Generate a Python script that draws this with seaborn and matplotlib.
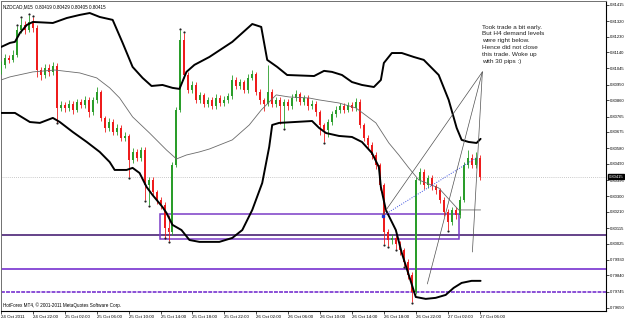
import numpy as np
import matplotlib
matplotlib.use("Agg")
import matplotlib.pyplot as plt
import seaborn as sns

# ---------------- data ----------------
bars = list(range(121))  # M15 chart, drawn here as 30-min candles, 24 Oct 18:00 .. 27 Oct 06:00

opens = [0.81036, 0.81065, 0.81106, 0.81094, 0.81124, 0.81269, 0.81298, 0.81269, 0.81316, 0.81281,
         0.81036, 0.81007, 0.81048, 0.81025, 0.81060, 0.80815, 0.80832, 0.80815, 0.80838, 0.80803,
         0.80850, 0.80832, 0.80862, 0.80792, 0.80862, 0.80908, 0.80757, 0.80698, 0.80733, 0.80675,
         0.80698, 0.80640, 0.80652, 0.80512, 0.80559, 0.80524, 0.80570, 0.80366, 0.80395, 0.80326,
         0.80279, 0.80250, 0.80116, 0.80093, 0.80483, 0.80803, 0.81211, 0.81007, 0.80920, 0.80949,
         0.80862, 0.80891, 0.80838, 0.80862, 0.80827, 0.80873, 0.80844, 0.80862, 0.80885, 0.80978,
         0.80943, 0.80966, 0.80920, 0.80990, 0.81013, 0.80908, 0.80862, 0.80838, 0.80908, 0.80838,
         0.80862, 0.80827, 0.80850, 0.80827, 0.80873, 0.80896, 0.80850, 0.80873, 0.80827, 0.80838,
         0.80792, 0.80716, 0.80687, 0.80733, 0.80780, 0.80803, 0.80827, 0.80803, 0.80832, 0.80815,
         0.80850, 0.80716, 0.80640, 0.80599, 0.80541, 0.80483, 0.80366, 0.80093, 0.80046, 0.80058,
         0.80023, 0.79988, 0.79918, 0.79842, 0.79743, 0.80395, 0.80442, 0.80366, 0.80407, 0.80361,
         0.80337, 0.80279, 0.80209, 0.80151, 0.80221, 0.80192, 0.80279, 0.80483, 0.80524, 0.80483,
         0.80524]
closes = [0.81065, 0.81106, 0.81094, 0.81124, 0.81269, 0.81298, 0.81269, 0.81316, 0.81281, 0.81036,
          0.81007, 0.81048, 0.81025, 0.81060, 0.80815, 0.80832, 0.80815, 0.80838, 0.80803, 0.80850,
          0.80832, 0.80862, 0.80792, 0.80862, 0.80908, 0.80757, 0.80698, 0.80733, 0.80675, 0.80698,
          0.80640, 0.80652, 0.80512, 0.80559, 0.80524, 0.80570, 0.80366, 0.80395, 0.80326, 0.80279,
          0.80250, 0.80116, 0.80093, 0.80483, 0.80803, 0.81211, 0.81007, 0.80920, 0.80949, 0.80862,
          0.80891, 0.80838, 0.80862, 0.80827, 0.80873, 0.80844, 0.80862, 0.80885, 0.80978, 0.80943,
          0.80966, 0.80920, 0.80990, 0.81013, 0.80908, 0.80862, 0.80838, 0.80908, 0.80838, 0.80862,
          0.80827, 0.80850, 0.80827, 0.80873, 0.80896, 0.80850, 0.80873, 0.80827, 0.80838, 0.80792,
          0.80716, 0.80687, 0.80733, 0.80780, 0.80803, 0.80827, 0.80803, 0.80832, 0.80815, 0.80850,
          0.80716, 0.80640, 0.80599, 0.80541, 0.80483, 0.80366, 0.80093, 0.80046, 0.80058, 0.80023,
          0.79988, 0.79918, 0.79842, 0.79743, 0.80395, 0.80442, 0.80366, 0.80407, 0.80361, 0.80337,
          0.80279, 0.80209, 0.80151, 0.80221, 0.80192, 0.80279, 0.80483, 0.80524, 0.80483, 0.80524,
          0.80415]
highs = [0.81090, 0.81130, 0.81125, 0.81150, 0.81290, 0.81339, 0.81320, 0.81357, 0.81345, 0.81300,
         0.81055, 0.81070, 0.81070, 0.81080, 0.81075, 0.80855, 0.80850, 0.80860, 0.80855, 0.80870,
         0.80870, 0.80885, 0.80880, 0.80880, 0.80935, 0.80920, 0.80770, 0.80755, 0.80750, 0.80720,
         0.80715, 0.80675, 0.80665, 0.80580, 0.80575, 0.80590, 0.80585, 0.80415, 0.80410, 0.80340,
         0.80295, 0.80265, 0.80190, 0.80500, 0.80820, 0.81269, 0.81252, 0.81025, 0.80970, 0.80965,
         0.80910, 0.80905, 0.80880, 0.80880, 0.80895, 0.80890, 0.80885, 0.80905, 0.81007, 0.80995,
         0.80985, 0.80980, 0.81010, 0.81036, 0.81025, 0.80925, 0.80875, 0.81065, 0.80925, 0.80880,
         0.80880, 0.80870, 0.80865, 0.80895, 0.80920, 0.80910, 0.80890, 0.80890, 0.80860, 0.80855,
         0.80805, 0.80730, 0.80750, 0.80800, 0.80825, 0.80845, 0.80845, 0.80850, 0.80850, 0.80873,
         0.80865, 0.80730, 0.80655, 0.80615, 0.80560, 0.80495, 0.80380, 0.80110, 0.80080, 0.80075,
         0.80040, 0.80000, 0.79935, 0.79860, 0.80410, 0.80465, 0.80460, 0.80425, 0.80425, 0.80375,
         0.80350, 0.80295, 0.80225, 0.80240, 0.80240, 0.80300, 0.80500, 0.80570, 0.80545, 0.80558,
         0.80540]
lows = [0.81015, 0.81050, 0.81075, 0.81080, 0.81110, 0.81250, 0.81245, 0.81255, 0.81260, 0.80995,
        0.80980, 0.80990, 0.81000, 0.81005, 0.80730, 0.80795, 0.80790, 0.80800, 0.80780, 0.80790,
        0.80815, 0.80815, 0.80760, 0.80775, 0.80845, 0.80740, 0.80675, 0.80680, 0.80655, 0.80660,
        0.80620, 0.80620, 0.80413, 0.80495, 0.80505, 0.80505, 0.80279, 0.80250, 0.80305, 0.80255,
        0.80225, 0.80060, 0.80040, 0.80075, 0.80470, 0.80790, 0.80990, 0.80900, 0.80905, 0.80845,
        0.80845, 0.80820, 0.80820, 0.80810, 0.80810, 0.80825, 0.80825, 0.80845, 0.80870, 0.80925,
        0.80925, 0.80900, 0.80905, 0.80975, 0.80890, 0.80840, 0.80800, 0.80825, 0.80820, 0.80820,
        0.80720, 0.80698, 0.80805, 0.80810, 0.80855, 0.80830, 0.80830, 0.80805, 0.80810, 0.80770,
        0.80658, 0.80617, 0.80646, 0.80715, 0.80765, 0.80785, 0.80785, 0.80790, 0.80800, 0.80800,
        0.80700, 0.80620, 0.80575, 0.80520, 0.80460, 0.80340, 0.80020, 0.80010, 0.80025, 0.79995,
        0.79960, 0.79895, 0.79820, 0.79683, 0.79730, 0.80370, 0.80345, 0.80350, 0.80340, 0.80315,
        0.80260, 0.80185, 0.80104, 0.80135, 0.80170, 0.80175, 0.80265, 0.80465, 0.80465, 0.80465,
        0.80395]

# Bollinger bands (higher time frame), read as points
upper_bar = [0, 2.25, 3.5, 4.75, 6.5, 8, 13, 16.5, 19.75, 22.25, 24.75, 28, 30.5, 33, 35.5, 37.75,
             40.5, 43, 44.75, 46.5, 48.5, 52.25, 58, 63, 65.25, 66.75, 69.25, 71.75, 78.5, 81, 83,
             85.5, 88, 90.5, 93.5, 95.25, 96, 98, 100.5, 103.5, 106, 109.75, 112.25, 114.25, 115.5,
             117.25, 119.25, 120.25]
upper = [0.81170, 0.81194, 0.81200, 0.81252, 0.81299, 0.81316, 0.81310, 0.81339, 0.81357, 0.81368,
         0.81345, 0.81328, 0.81194, 0.81054, 0.80990, 0.80943, 0.80949, 0.80932, 0.80926, 0.81025,
         0.81066, 0.81112, 0.81200, 0.81304, 0.81287, 0.81095, 0.81054, 0.81007, 0.81001, 0.81031,
         0.81025, 0.81007, 0.80966, 0.80949, 0.80937, 0.80978, 0.81077, 0.81135, 0.81135, 0.81112,
         0.81095, 0.81007, 0.80862, 0.80699, 0.80629, 0.80617, 0.80611, 0.80635]
lower_bar = [0, 3.5, 7.25, 9.75, 13, 14.75, 18, 21.5, 24.75, 27.25, 28.5, 31.5, 33, 34.75, 36.5, 38,
             40.5, 41.5, 43, 45.25, 47.25, 49.75, 54.75, 58, 60.5, 63, 65.5, 67.25, 68, 69.75, 78,
             79.75, 81.5, 84.75, 88, 90.5, 93, 94.75, 95.25, 96.5, 99, 100.5, 102.25, 104, 106.5,
             109, 111.5, 113.5, 115.5, 118, 120.25]
lower = [0.80786, 0.80786, 0.80733, 0.80728, 0.80757, 0.80733, 0.80675, 0.80617, 0.80559, 0.80500,
         0.80454, 0.80454, 0.80466, 0.80436, 0.80355, 0.80308, 0.80238, 0.80203, 0.80134, 0.80104,
         0.80046, 0.80035, 0.80035, 0.80058, 0.80104, 0.80221, 0.80378, 0.80588, 0.80716, 0.80728,
         0.80739, 0.80699, 0.80669, 0.80652, 0.80646, 0.80617, 0.80553, 0.80471, 0.80355, 0.80221,
         0.80104, 0.79970, 0.79842, 0.79714, 0.79703, 0.79709, 0.79726, 0.79767, 0.79796, 0.79808,
         0.79808]
middle_bar = [0, 2.25, 8, 13.5, 19.75, 24, 27.25, 29.75, 33, 37.25, 41.5, 44, 46.5, 49.75, 52.25,
              58, 62.25, 65.25, 69, 72.25, 77.25, 79.75, 84.75, 89, 94, 97.25, 99.75, 102.25,
              104.75, 109.75, 114.75, 120.25]
middle = [0.80978, 0.80996, 0.81025, 0.81036, 0.81019, 0.80990, 0.80932, 0.80873, 0.80763, 0.80669,
          0.80570, 0.80518, 0.80541, 0.80559, 0.80576, 0.80629, 0.80716, 0.80803, 0.80891, 0.80879,
          0.80873, 0.80862, 0.80844, 0.80815, 0.80728, 0.80611, 0.80541, 0.80466, 0.80396, 0.80349,
          0.80221, 0.80221]

# band-touch dots
dot_bar = [4, 5, 7, 8, 45, 46, 14, 32, 36, 37, 41, 42, 71, 81, 96, 97, 99, 101, 103, 112]
dot_price = [0.81300, 0.81345, 0.81362, 0.81350, 0.81275, 0.81258, 0.80725, 0.80408, 0.80274,
             0.80245, 0.80055, 0.80035, 0.80693, 0.80612, 0.80015, 0.80005, 0.79990, 0.79890,
             0.79678, 0.80099]

current_price = 0.80415
level_dark = 0.80075
level_mid = 0.79877
level_dotted = 0.79743
zone_bars = [39.8, 114.9]
zone_prices = [0.80052, 0.80197]
trend_blue_bars = [95.7, 119.5]
trend_blue_prices = [0.80186, 0.80529]
note_anchor = (120.7, 0.81025)
note_targets_bar = [95.7, 106.9, 118.2]
note_targets_price = [0.80192, 0.79790, 0.79976]

ytick_values = [0.81415, 0.81320, 0.81230, 0.81140, 0.81045, 0.80950, 0.80860, 0.80765, 0.80675,
                0.80580, 0.80490, 0.80395, 0.80300, 0.80210, 0.80115, 0.80025, 0.79930, 0.79840,
                0.79745, 0.79650]
xtick_bars = [0, 8, 16, 24, 32, 40, 48, 56, 64, 72, 80, 88, 96, 104, 112, 120]
xtick_labels = ["24 Oct 2011", "24 Oct 22:00", "25 Oct 02:00", "25 Oct 06:00", "25 Oct 10:00",
                "25 Oct 14:00", "25 Oct 18:00", "25 Oct 22:00", "26 Oct 02:00", "26 Oct 06:00",
                "26 Oct 10:00", "26 Oct 14:00", "26 Oct 18:00", "26 Oct 22:00", "27 Oct 02:00",
                "27 Oct 06:00"]
title_text = "NZDCAD,M15  0.80419 0.80429 0.80405 0.80415"
copyright_text = "HotForex MT4, \u00a9 2001-2011 MetaQuotes Software Corp."
note_text = ("Took trade a bit early.\nBut H4 demand levels\nwere right below.\n"
             "Hence did not close\nthis trade. Woke up\nwith 30 pips :)")

# ---------------- drawing ----------------
sns.set_style("white")
plt.rcParams['font.family'] = ['Liberation Sans', 'DejaVu Sans']

W, H = 625, 319
fig = plt.figure(figsize=(W / 100, H / 100), dpi=100)
ax = fig.add_axes([1 / W, 8 / H, 605 / W, 310 / H])
ax.set_xlim(0.2, 151.7)
ax.set_ylim(0.796324, 0.81438)

GREEN = "#2a9d2a"
RED = "#ee1c1c"

# levels
ax.axhline(current_price, color="#b8b8b8", lw=0.6, ls=(0, (1, 1.5)), zorder=1)
ax.axhline(level_dark, color="#3a0f6a", lw=1.1, zorder=2)
ax.axhline(level_mid, color="#8a4fd6", lw=1.4, zorder=2)
ax.axhline(level_dotted, color="#8a4fd6", lw=1.4, ls=(0, (2, 0.6)), zorder=2)
ax.add_patch(plt.Rectangle((zone_bars[0], zone_prices[0]), zone_bars[1] - zone_bars[0],
                           zone_prices[1] - zone_prices[0], fill=False,
                           edgecolor="#7a3cc6", lw=1.1, zorder=2))

# candles
o = np.array(opens); c = np.array(closes); hi = np.array(highs); lo = np.array(lows)
x = np.array(bars)
up = c >= o
colors = np.where(up, GREEN, RED)
ax.vlines(x, lo, hi, colors=colors, lw=0.6, zorder=3)
bottoms = np.minimum(o, c)
heights = np.maximum(np.abs(c - o), 0.00003)
ax.bar(x, heights, bottom=bottoms, width=0.5, color=colors, lw=0, zorder=4)

# Bollinger bands
sns.lineplot(x=upper_bar, y=upper, ax=ax, color="black", lw=1.4, zorder=5)
sns.lineplot(x=lower_bar, y=lower, ax=ax, color="black", lw=1.4, zorder=5)
sns.lineplot(x=middle_bar, y=middle, ax=ax, color="#6a6a6a", lw=0.6, zorder=5)

# touch dots
sns.scatterplot(x=dot_bar, y=dot_price, ax=ax, color="#222222", s=2.5, linewidth=0, zorder=6)

# blue dotted trend line
ax.plot(trend_blue_bars, trend_blue_prices, color="#3b4fe0", lw=0.7, ls=(0, (1, 1.5)), zorder=6)
ax.plot(trend_blue_bars[0], trend_blue_prices[0], marker="s", ms=1.5, color="#2030d0", zorder=7)

# annotation lines
for tb, tp in zip(note_targets_bar, note_targets_price):
    ax.plot([note_anchor[0], tb], [note_anchor[1], tp], color="#505050", lw=0.5, zorder=6)

ax.text(120.6, 0.81300, note_text, fontsize=4.6, va="top", ha="left", linespacing=1.45,
        color="#222222", zorder=8)

# axes styling
for s in ["top", "left"]:
    ax.spines[s].set_color("#707070")
    ax.spines[s].set_linewidth(0.7)
for s in ["right", "bottom"]:
    ax.spines[s].set_color("black")
    ax.spines[s].set_linewidth(0.8)

ax.yaxis.tick_right()
ax.set_yticks(ytick_values)
ax.set_yticklabels([f"{v:.5f}" for v in ytick_values])
ax.tick_params(axis="y", which="both", right=True, left=False, length=2, width=0.5,
               pad=0.6, labelsize=3.0, colors="black")
ax.set_xticks(xtick_bars)
ax.set_xticklabels(xtick_labels)
ax.tick_params(axis="x", which="both", bottom=True, length=2.5, width=0.5, pad=0.5,
               labelsize=3.2, colors="black")
for lab in ax.get_xticklabels():
    lab.set_horizontalalignment("left")
ax.set_xlabel("")
ax.set_ylabel("")

# current price box
ax.annotate(f"{current_price:.5f}", xy=(1.0, current_price), xycoords=("axes fraction", "data"),
            xytext=(1.9, 0), textcoords="offset points", va="center", ha="left", fontsize=3.0,
            color="white", annotation_clip=False,
            bbox=dict(boxstyle="square,pad=0.12", fc="black", ec="black"))

fig.text(3 / W, 1 - 7 / H, title_text, fontsize=3.3, va="center", ha="left", color="black")
fig.text(3 / W, 1 - 305 / H, copyright_text, fontsize=3.3, va="center", ha="left", color="black")

fig.savefig("out.png", dpi=100)
